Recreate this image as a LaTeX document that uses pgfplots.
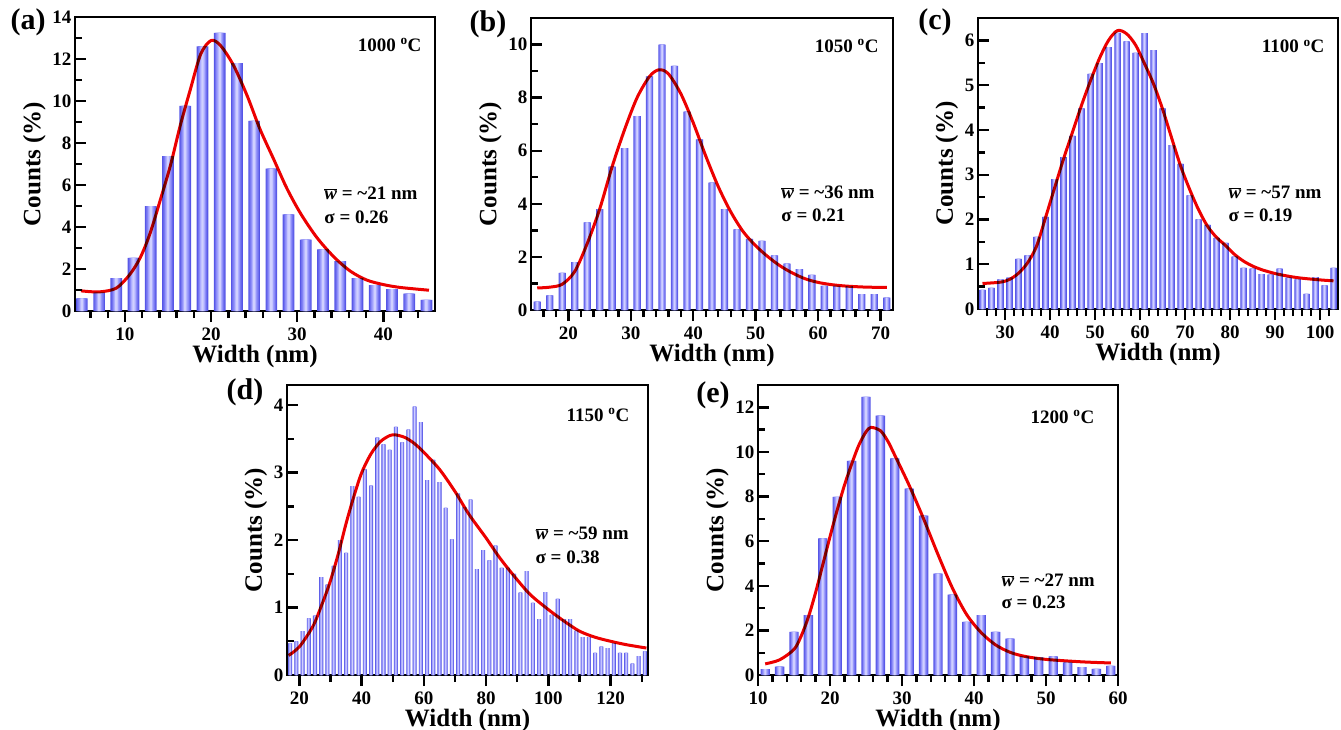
\documentclass[border=0pt]{standalone}
\usepackage{fontspec}
\setmainfont{Liberation Serif}
\usepackage{pgfplots}
\usepackage{pgfplotstable}
\pgfplotsset{compat=1.18}

\definecolor{bsA}{RGB}{86,86,230}
\definecolor{bsB}{RGB}{112,112,240}
\definecolor{bsC}{RGB}{140,140,248}
\definecolor{bsD}{RGB}{172,172,255}
\definecolor{bsE}{RGB}{208,208,255}
\definecolor{fitred}{RGB}{236,0,0}

% bar data: width (nm), counts (%)
\pgfplotstableread{
x y
5 0.6
7 0.88
9 1.57
11 2.53
13 5.0
15 7.38
17 9.77
19 12.6
21 13.25
23 11.8
25 9.05
27 6.78
29 4.6
31 3.4
33 2.93
35 2.37
37 1.57
39 1.23
41 1.04
43 0.83
45 0.53
}\tabA
\pgfplotstableread{
x y
15 0.32
17 0.55
19 1.4
21 1.8
23 3.3
25 3.8
27 5.4
29 6.1
31 7.3
33 8.8
35 10.0
37 9.2
39 7.47
41 6.43
43 4.8
45 3.8
47 3.04
49 2.68
51 2.6
53 2.06
55 1.75
57 1.54
59 1.32
61 0.91
63 0.91
65 0.9
67 0.6
69 0.6
71 0.47
}\tabB
\pgfplotstableread{
x y
25 0.43
27 0.47
29 0.66
31 0.7
33 1.12
35 1.2
37 1.61
39 2.06
41 2.9
43 3.39
45 3.87
47 4.48
49 5.25
51 5.49
53 5.85
55 6.17
57 5.98
59 5.72
61 6.16
63 5.78
65 4.48
67 3.66
69 3.24
71 2.54
73 2.0
75 1.88
77 1.59
79 1.48
81 1.17
83 0.92
85 0.9
87 0.78
89 0.77
91 0.9
93 0.7
95 0.66
97 0.34
99 0.71
101 0.53
103 0.92
}\tabC
\pgfplotstableread{
x y
17 0.47
19 0.5
21 0.65
23 0.84
25 0.88
27 1.45
29 1.34
31 1.62
33 2.0
35 1.81
37 2.8
39 2.64
41 3.05
43 2.81
45 3.52
47 3.42
49 3.34
51 3.68
53 3.45
55 3.64
57 3.98
59 3.75
61 2.89
63 3.19
65 2.86
67 2.48
69 2.01
71 2.69
73 2.49
75 2.6
77 1.57
79 1.85
81 1.7
83 1.92
85 1.59
87 1.59
89 1.5
91 1.22
93 1.54
95 1.07
97 0.83
99 1.23
101 0.89
103 1.13
105 0.83
107 0.83
109 0.66
111 0.56
113 0.56
115 0.33
117 0.42
119 0.4
121 0.47
123 0.33
125 0.33
127 0.17
129 0.28
131 0.35
}\tabD
\pgfplotstableread{
x y
11 0.26
13 0.38
15 1.93
17 2.68
19 6.13
21 7.98
23 9.6
25 12.47
27 11.63
29 9.71
31 8.36
33 7.15
35 4.55
37 3.6
39 2.38
41 2.68
43 1.93
45 1.63
47 0.83
49 0.8
51 0.83
53 0.57
55 0.35
57 0.27
59 0.41
}\tabE

\pgfplotsset{
  panel/.style={
    scale only axis, anchor=south west,
    width=360pt, height=292pt,
    axis line style={line width=2.8pt},
    tick style={black, line width=2.4pt},
    xtick align=outside, ytick align=inside,
    major tick length=11pt, minor tick length=7pt,
    xtick pos=bottom, ytick pos=left,
    ticklabel style={font=\fontsize{19}{19}\selectfont\bfseries},
    xticklabel style={inner sep=0pt, yshift=-6pt},
    /pgf/number format/assume math mode=true,
    xlabel={Width (nm)}, ylabel={Counts (\%)},
    label style={font=\fontsize{25}{25}\selectfont\bfseries},
    xlabel style={at={(axis description cs:0.5,0)}, anchor=center,
      inner sep=0pt, yshift=-45pt},
    ymin=0,
  },
  bar/.style={ybar, bar shift=0pt, draw=none, fill=#1},
  fit/.style={fitred, line width=3pt, smooth, mark=none, blend mode=multiply},
}
\tikzset{
  temp/.style={anchor=east, font=\fontsize{19}{19}\selectfont\bfseries},
  note/.style={anchor=west, font=\fontsize{19}{19}\selectfont\bfseries},
}
% one histogram as five nested bars, lighter towards the middle
\newcommand{\barstack}[2]{%
  \addplot[bar=bsA, bar width={#2}] table {#1};
  \addplot[bar=bsB, bar width={0.8*#2}] table {#1};
  \addplot[bar=bsC, bar width={0.6*#2}] table {#1};
  \addplot[bar=bsD, bar width={0.4*#2}] table {#1};
  \addplot[bar=bsE, bar width={0.2*#2}] table {#1};
}
\newcommand{\wbar}{$\overline{\mbox{\bfseries\itshape w}}$}

\begin{document}
\begin{tikzpicture}
\useasboundingbox (0,0) rectangle (1341pt,-729pt);

% (a) 1000 C
\begin{axis}[panel, at={(75pt,-311pt)}, width=360pt, height=294pt,
  xmin=4.2, xmax=46, ymax=14,
  xtick={10,20,30,40}, minor xtick={6,8,...,44},
  ytick={0,2,...,14}, minor ytick={1,3,...,13}]
  \barstack{\tabA}{1.36}
  \addplot[fit] coordinates {
    (4.9,0.96) (7,0.91) (9,1.09) (10.6,1.76) (11.8,2.56) (12.9,3.68)
    (14.1,5.28) (15.3,6.96) (16.4,8.8) (17.6,10.56) (18.8,12.24) (20,12.88)
    (21.1,12.64) (22.6,11.7) (24.2,10.24) (25.7,8.64) (27.3,7.2) (28.8,5.84)
    (30.4,4.64) (32.3,3.49) (34.3,2.56) (36.2,1.89) (38.1,1.47) (40.1,1.25)
    (42,1.12) (45.3,0.99)
  };
  \node[temp] at (rel axis cs:0.972,0.905) {1000 \textsuperscript{o}C};
  \node[note] at (rel axis cs:0.683,0.401) {\wbar{} = \textasciitilde21 nm};
  \node[note] at (rel axis cs:0.683,0.320) {σ = 0.26};
\end{axis}

% (b) 1050 C
\begin{axis}[panel, at={(531pt,-310pt)}, width=362pt,
  xmin=14, xmax=72, ymax=11,
  xtick={20,30,...,70}, minor xtick={16,18,...,70},
  ytick={0,2,...,10}, minor ytick={1,3,...,9}]
  \barstack{\tabB}{1.17}
  \addplot[fit] coordinates {
    (15,0.83) (17,0.86) (19,0.97) (21,1.45) (23,2.5) (25,3.8) (27,5.4)
    (29,6.8) (31,8.0) (33,8.8) (34.5,9.05) (36,8.9) (38,8.15) (40,7.05)
    (42,5.8) (44,4.65) (46,3.7) (48,2.95) (50,2.42) (52,2.0) (54,1.65)
    (56,1.38) (58,1.17) (60,1.04) (62,0.96) (64,0.91) (66,0.88) (68,0.86)
    (71,0.85)
  };
  \node[temp] at (rel axis cs:0.970,0.904) {1050 \textsuperscript{o}C};
  \node[note] at (rel axis cs:0.682,0.404) {\wbar{} = \textasciitilde36 nm};
  \node[note] at (rel axis cs:0.682,0.325) {σ = 0.21};
\end{axis}

% (c) 1100 C
\begin{axis}[panel, at={(978pt,-309pt)}, height=291pt,
  xmin=24, xmax=104, ymax=6.5,
  xtick={30,40,...,100}, minor xtick={26,28,...,102},
  ytick={0,1,...,6}, minor ytick={0.5,1.5,...,6.5}]
  \barstack{\tabC}{1.45}
  \addplot[fit] coordinates {
    (25,0.57) (29,0.6) (31,0.66) (33,0.8) (35,1.03) (37,1.4) (39,2.04)
    (41,2.7) (43,3.35) (45,3.95) (47,4.55) (49,5.1) (51,5.6) (53,6.0)
    (55,6.22) (57,6.15) (59,5.9) (61,5.48) (63,5.03) (65,4.47) (67,3.83)
    (69,3.2) (71,2.68) (73,2.22) (75,1.85) (77,1.6) (79,1.42) (81,1.22)
    (83,1.07) (85,0.96) (87,0.88) (89,0.82) (91,0.77) (95,0.7) (100,0.65)
    (103,0.63)
  };
  \node[temp] at (rel axis cs:0.972,0.903) {1100 \textsuperscript{o}C};
  \node[note] at (rel axis cs:0.686,0.402) {\wbar{} = \textasciitilde57 nm};
  \node[note] at (rel axis cs:0.686,0.323) {σ = 0.19};
\end{axis}

% (d) 1150 C
\begin{axis}[panel, at={(287pt,-675pt)}, width=361pt, height=290pt,
  xmin=16, xmax=132, ymax=4.3,
  xtick={20,40,...,120}, minor xtick={30,50,...,130},
  ytick={0,1,...,4}, minor ytick={0.5,1.5,...,4}]
  \barstack{\tabD}{1.3}
  \addplot[fit] coordinates {
    (16.5,0.29) (20,0.42) (24.3,0.72) (27,1.02) (29.7,1.36) (32.5,1.8)
    (35,2.25) (37.5,2.65) (40,3.0) (43,3.28) (46,3.46) (49,3.55) (51,3.56)
    (54,3.52) (57,3.43) (60,3.3) (65,3.05) (70,2.72) (74.5,2.38) (80,2.03)
    (84,1.76) (88.4,1.5) (94,1.2) (100,0.97) (105,0.8) (110,0.65) (115,0.56)
    (120,0.5) (125,0.45) (131.5,0.4)
  };
  \node[temp] at (rel axis cs:0.958,0.897) {1150 \textsuperscript{o}C};
  \node[note] at (rel axis cs:0.679,0.490) {\wbar{} = \textasciitilde59 nm};
  \node[note] at (rel axis cs:0.679,0.407) {σ = 0.38};
\end{axis}

% (e) 1200 C
\begin{axis}[panel, at={(758pt,-675pt)}, height=290pt,
  xmin=10, xmax=60, ymax=13,
  xtick={10,20,...,60}, minor xtick={12,14,...,58},
  ytick={0,2,...,12}, minor ytick={1,3,...,13}]
  \barstack{\tabE}{1.3}
  \addplot[fit] coordinates {
    (11,0.5) (13,0.68) (15,1.15) (16,1.75) (17,2.6) (18,3.7) (19,4.95)
    (20,6.2) (21,7.4) (22,8.5) (23,9.45) (24,10.3) (25,10.9) (25.7,11.1)
    (27,10.95) (28,10.5) (29,9.85) (31,8.5) (33,7.0) (35,5.4) (37,3.9)
    (39,2.7) (41,1.9) (43,1.35) (45,1.02) (47,0.84) (50,0.7) (55,0.59)
    (59,0.54)
  };
  \node[temp] at (rel axis cs:0.944,0.890) {1200 \textsuperscript{o}C};
  \node[note] at (rel axis cs:0.667,0.328) {\wbar{} = \textasciitilde27 nm};
  \node[note] at (rel axis cs:0.667,0.252) {σ = 0.23};
\end{axis}

% panel letters
\begin{scope}[every node/.style={font=\fontsize{30}{30}\selectfont\bfseries}]
  \node at (28pt,-22pt) {(a)};
  \node at (488pt,-24pt) {(b)};
  \node at (935pt,-22pt) {(c)};
  \node at (245pt,-392pt) {(d)};
  \node at (713pt,-395pt) {(e)};
\end{scope}
\end{tikzpicture}
\end{document}
